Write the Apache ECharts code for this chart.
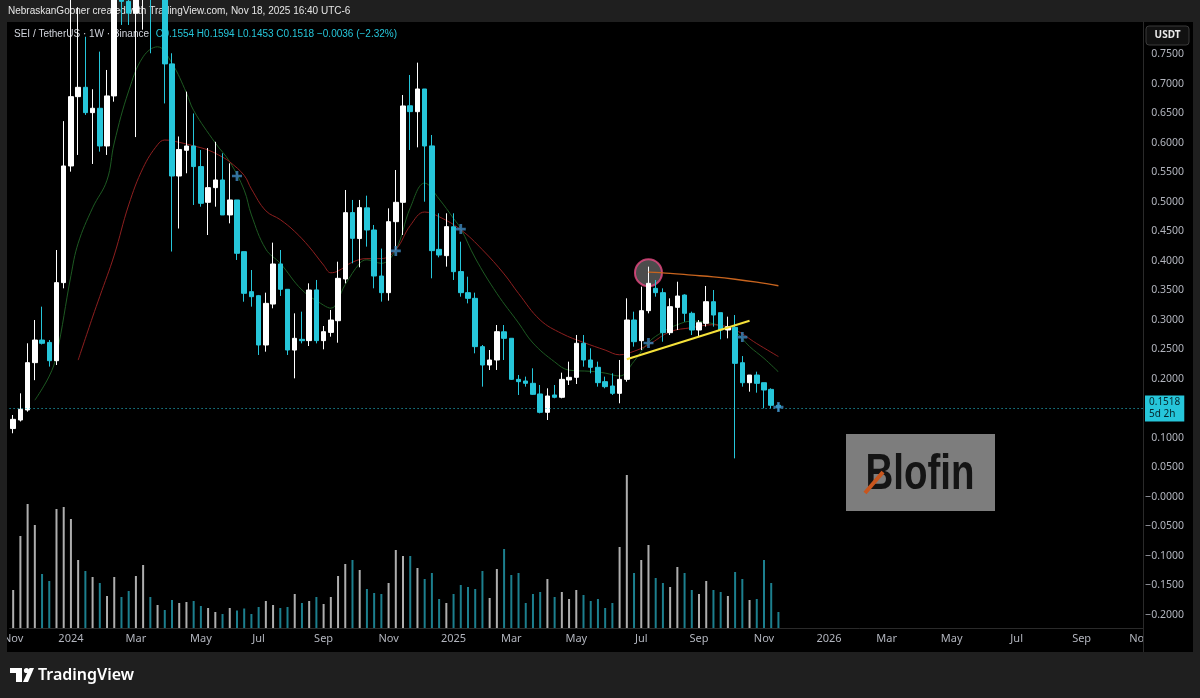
<!DOCTYPE html>
<html><head><meta charset="utf-8">
<script src="https://cdn.jsdelivr.net/npm/echarts@6/dist/echarts.min.js"></script>
<style>html,body{margin:0;padding:0;background:#1f1f1f}#c{width:1200px;height:698px}</style>
</head><body><div id="c"></div>
<script>
// ---- DATA ----
const startMonday = '2023-11-06';   // first weekly bar
const weekCount = 157;              // bars shown on the time axis (to Nov 2026)
const firstWeek = -8;               // week index of first bar relative to 2024-01-01

// weekly candles [open, close, low, high]
const candles = [
  [0.116,0.1316,0.108,0.139],   // -8
  [0.1305,0.1486,0.128,0.1757],
  [0.1475,0.2277,0.1446,0.2605],
  [0.2277,0.266,0.198,0.300],
  [0.266,0.2605,0.2585,0.3226],
  [0.262,0.231,0.221,0.266],
  [0.231,0.3633,0.2237,0.4186],
  [0.3633,0.561,0.3537,0.637],
  [0.561,0.6785,0.5514,0.87],   // 0
  [0.6785,0.6943,0.5797,0.83],
  [0.6943,0.6514,0.6475,0.78],
  [0.6514,0.6588,0.5644,0.691],
  [0.6588,0.5949,0.5853,0.7548],
  [0.5949,0.6797,0.5797,0.7237],
  [0.6797,0.88,0.67,0.90],
  [0.88,0.84,0.80,0.95],
  [0.84,0.82,0.80,0.90],
  [0.82,0.93,0.61,1.00],
  [0.93,1.00,0.792,1.14],        // 10
  [1.00,0.86,0.752,1.03],
  [0.86,0.90,0.82,0.95],
  [0.90,0.734,0.667,0.92],
  [0.734,0.544,0.416,0.752],
  [0.544,0.589,0.455,0.611],
  [0.5876,0.5949,0.5486,0.687],
  [0.5949,0.56,0.4949,0.650],
  [0.56,0.4977,0.492,0.588],
  [0.4994,0.5243,0.444,0.5915],
  [0.5243,0.5373,0.492,0.602],   // 20
  [0.5373,0.478,0.478,0.5825],
  [0.478,0.5034,0.4638,0.5655],
  [0.5034,0.413,0.4017,0.5034],
  [0.4158,0.3452,0.331,0.4158],
  [0.348,0.3395,0.3226,0.3847],
  [0.3412,0.2576,0.2407,0.3424],
  [0.2576,0.3282,0.2463,0.3463],
  [0.327,0.3949,0.3198,0.4311],
  [0.395,0.352,0.3407,0.4186],
  [0.352,0.2491,0.2407,0.352],   // 30
  [0.249,0.2689,0.2011,0.3113],
  [0.2672,0.2649,0.2604,0.3141],
  [0.265,0.3508,0.2559,0.3621],
  [0.351,0.265,0.2604,0.3678],
  [0.265,0.2802,0.2503,0.2898],
  [0.279,0.2999,0.2717,0.317],
  [0.2988,0.3706,0.2615,0.3988],
  [0.3695,0.4819,0.3621,0.5203],
  [0.482,0.4384,0.396,0.5034],
  [0.438,0.4904,0.3893,0.5034],  // 40
  [0.490,0.4525,0.4243,0.5107],
  [0.4525,0.3745,0.3537,0.461],
  [0.3745,0.3463,0.3311,0.421],
  [0.3463,0.4666,0.3328,0.4892],
  [0.4666,0.4994,0.4186,0.5542],
  [0.4994,0.6627,0.444,0.6813],
  [0.663,0.6531,0.5881,0.7152],
  [0.653,0.6915,0.5926,0.7361],
  [0.6915,0.5949,0.5005,0.6915],
  [0.595,0.4175,0.3706,0.6135],  // 50
  [0.4197,0.4101,0.4062,0.4808],
  [0.409,0.4582,0.3904,0.4808],
  [0.458,0.3819,0.3678,0.4808],
  [0.382,0.3463,0.3395,0.4327],
  [0.3463,0.3367,0.3282,0.3734],
  [0.3367,0.2548,0.2435,0.3463],
  [0.2548,0.2237,0.187,0.2576],
  [0.2237,0.2322,0.2152,0.2491],
  [0.2322,0.2802,0.2153,0.2915],
  [0.280,0.2689,0.2322,0.2915],  // 60
  [0.269,0.1994,0.1983,0.269],
  [0.1994,0.1955,0.1729,0.2068],
  [0.1966,0.1927,0.187,0.204],
  [0.1927,0.174,0.1729,0.2181],
  [0.1746,0.1435,0.1418,0.1898],
  [0.1435,0.1712,0.1305,0.1842],
  [0.1729,0.169,0.1673,0.1898],
  [0.169,0.1994,0.1673,0.2107],
  [0.1983,0.2028,0.1898,0.2294],
  [0.2028,0.2605,0.1915,0.2746], // 70
  [0.2605,0.2322,0.2209,0.2746],
  [0.2322,0.2198,0.2096,0.252],
  [0.2198,0.1938,0.187,0.2294],
  [0.1955,0.187,0.1842,0.204],
  [0.1881,0.1757,0.1729,0.2096],
  [0.1757,0.1994,0.1588,0.2322],
  [0.1994,0.300,0.1955,0.3367],
  [0.300,0.2632,0.2548,0.3141],
  [0.2649,0.3158,0.2491,0.3565],
  [0.3158,0.3621,0.3113,0.3904], // 80
  [0.3536,0.3463,0.3395,0.3678],
  [0.3463,0.2785,0.2632,0.3536],
  [0.2785,0.3226,0.2745,0.3367],
  [0.3214,0.3406,0.283,0.3649],
  [0.3423,0.3113,0.2971,0.3435],
  [0.3113,0.283,0.2745,0.3141],
  [0.283,0.2954,0.2717,0.2999],
  [0.2943,0.331,0.2887,0.3576],
  [0.331,0.3084,0.2887,0.3508],
  [0.3124,0.283,0.2672,0.3124],  // 90
  [0.283,0.2887,0.2689,0.3056],
  [0.2875,0.2265,0.0655,0.3084],
  [0.2276,0.1937,0.187,0.2389],
  [0.1937,0.2067,0.1785,0.2067],
  [0.2067,0.1926,0.1768,0.2124],
  [0.1937,0.1813,0.1503,0.1937],
  [0.1824,0.1554,0.1503,0.1842],
  [0.1554,0.1518,0.1453,0.1594]  // 98 (current)
];

// weekly volume (relative units, same order as candles)
const volumes = [38,92,124,103,54,47,119,121,
  109,68,57,51,45,32,51,31,37,52,
  63,31,23,18,28,25,26,27,22,20,
  16,14,20,17.5,19.5,14,21,27,23,20,
  21,34,25,27,31,24,31,52,64,68,
  58,39,35,34,45,78,72,72,60,49,
  55,29,25,34,43,41,39,57,30,59,
  79,53,55,25,34,36,49,31,36,29,
  38,33,27,29,20,25,81,153,55,68,
  83,50,45,41,61,55,38,34,47,38,
  36,32,56,49,28,29,68,45,16];

// moving averages [week, value]
const fastMA = [[-5,0.164],[-3,0.205],[-2,0.240],[0,0.375],[1,0.43],[3,0.49],[5,0.537],[6,0.60],[8,0.688],
  [10,0.746],[12,0.763],[14,0.735],[16,0.685],[17,0.655],[20,0.600],[22,0.568],[24,0.52],[25,0.478],[27,0.42],
  [29,0.396],[32,0.351],[35,0.325],[36,0.320],[38,0.36],[40,0.396],[41,0.402],[43,0.396],[45,0.419],[47,0.49],
  [49,0.532],[51,0.505],[53,0.472],[54,0.455],[56,0.405],[59,0.345],[62,0.295],[64,0.261],[67,0.229],[69,0.215],
  [72,0.213],[74,0.21],[76,0.205],[78,0.23],[80,0.262],[82,0.28],[84,0.292],[86,0.298],[88,0.296],[90,0.29],
  [92,0.280],[94,0.255],[96,0.235],[98,0.212]];
const slowMA = [[1,0.232],[3,0.305],[4,0.34],[6,0.41],[8,0.495],[10,0.558],[12,0.597],[13,0.605],[15,0.601],
  [17,0.595],[19,0.588],[21,0.576],[22,0.568],[24,0.545],[25,0.522],[27,0.485],[29,0.47],[31,0.45],[33,0.424],
  [35,0.393],[36,0.380],[37,0.383],[39,0.398],[41,0.404],[43,0.404],[45,0.419],[47,0.46],[49,0.483],[51,0.475],
  [54,0.453],[57,0.419],[60,0.378],[62,0.345],[65,0.300],[68,0.277],[71,0.262],[74,0.249],[76,0.241],[78,0.247],
  [80,0.258],[83,0.280],[86,0.287],[89,0.292],[92,0.283],[95,0.260],[98,0.238]];
const orangeLine = [[80,0.381],[83,0.379],[86,0.376],[89,0.373],[92,0.369],[95,0.364],[98,0.358]];
const trendLine = [[77,0.2334],[94,0.2988]];
const circleMark = [[80,0.38]];
const plusMarks = [[23,0.544],[45,0.417],[54,0.454],[80,0.261],[93,0.271],[98,0.1525]];
const lastPrice = 0.1518;
const priceTicks = [0.75,0.70,0.65,0.60,0.55,0.50,0.45,0.40,0.35,0.30,0.25,0.20,0.10,0.05,0,-0.05,-0.10,-0.15,-0.20];
const monthNames = ['Jan','Feb','Mar','Apr','May','Jun','Jul','Aug','Sep','Oct','Nov','Dec'];

// ---- BUILD ----
const categories = [];
const d0 = new Date(startMonday + 'T00:00:00Z');
for (let i = 0; i < weekCount; i++) {
  const d = new Date(d0.getTime() + i * 7 * 86400000);
  categories.push(d.toISOString().slice(0, 10));
}
const idx = w => w - firstWeek;
const UP = '#ffffff', DOWN = '#26c6da';
const volData = volumes.map((v, i) => ({
  value: v,
  itemStyle: { color: candles[i][1] >= candles[i][0] ? 'rgba(205,205,205,0.85)' : 'rgba(38,170,190,0.75)' }
}));
const toIdx = arr => arr.map(p => [idx(p[0]), p[1]]);
const FONT = '"Noto Sans", "Open Sans", sans-serif';
const UIFONT = '"Liberation Sans", Arial, sans-serif';

const chart = echarts.init(document.getElementById('c'), null, { renderer: 'canvas' });
chart.setOption({
  backgroundColor: '#1f1f1f',
  animation: false,
  textStyle: { fontFamily: FONT },
  grid: { left: 5, right: 57, top: 22, bottom: 70 },
  xAxis: {
    type: 'category', data: categories, boundaryGap: true,
    axisLine: { show: true, onZero: false, lineStyle: { color: '#2a2a2a' } },
    axisTick: { show: false },
    splitLine: { show: false },
    axisLabel: {
      color: '#b2b5be', fontSize: 11, margin: 5, hideOverlap: false,
      interval: (i, v) => { const m = +v.slice(5, 7), d = +v.slice(8, 10); return m % 2 === 1 && d <= 7; },
      formatter: v => { const m = +v.slice(5, 7); return m === 1 ? v.slice(0, 4) : monthNames[m - 1]; }
    }
  },
  yAxis: [{
    type: 'value', position: 'right', min: -0.222, max: 0.805, scale: true,
    axisLine: { show: true, lineStyle: { color: '#2a2a2a' } },
    axisTick: { show: false },
    splitLine: { show: false },
    axisLabel: {
      customValues: priceTicks, color: '#b2b5be', fontSize: 10.5, align: 'right', margin: 41,
      formatter: v => { const s = Math.abs(v).toFixed(4); return v <= 0 ? '\u2212' + s : s; }
    }
  }, {
    type: 'value', min: 0, max: 606, show: false, splitLine: { show: false }
  }],
  series: [
    { type: 'bar', yAxisIndex: 1, data: volData, barWidth: 2, z: 1, silent: true },
    { type: 'line', data: toIdx(fastMA), smooth: 0.4, symbol: 'none', lineStyle: { color: '#1d5a22', width: 1 }, z: 2, silent: true },
    { type: 'line', data: toIdx(slowMA), smooth: 0.4, symbol: 'none', lineStyle: { color: '#8e1f1f', width: 1 }, z: 2, silent: true },
    { type: 'scatter', data: toIdx(circleMark), symbol: 'circle', symbolSize: 27,
      itemStyle: { color: 'rgba(105,105,105,0.9)', borderColor: '#e84a83', borderWidth: 2 }, z: 2, silent: true },
    { type: 'candlestick', data: candles, barWidth: 5, z: 3, clip: true,
      itemStyle: { color: UP, color0: DOWN, borderColor: UP, borderColor0: DOWN, borderWidth: 1 },
      markLine: {
        silent: true, symbol: 'none', animation: false,
        lineStyle: { color: '#26c6da', type: [1, 3], width: 1 },
        label: { show: true, position: 'end', distance: 2, formatter: '0.1518\n5d 2h', backgroundColor: '#26c6da',
          color: '#06262c', fontSize: 10, lineHeight: 12, padding: [1, 4, 1, 4], fontFamily: FONT },
        data: [{ yAxis: lastPrice }]
      }
    },
    { type: 'line', data: toIdx(orangeLine), smooth: 0.4, symbol: 'none', lineStyle: { color: '#c8641e', width: 1.3 }, z: 4, silent: true },
    { type: 'line', data: toIdx(trendLine), symbol: 'none', lineStyle: { color: '#f5e13a', width: 2 }, z: 4, silent: true },
    { type: 'scatter', data: toIdx(plusMarks), symbol: 'path://M4,0h3v4h4v3h-4v4h-3v-4h-4v-3h4z', symbolSize: 10,
      itemStyle: { color: '#3f88bf' }, z: 5, silent: true }
  ],
  graphic: [
    { type: 'rect', shape: { x: 7, y: 22, width: 1186, height: 630 }, style: { fill: '#000' }, z: -10, silent: true },
    { type: 'text', x: 8, y: 6, style: { text: 'NebraskanGooner created with TradingView.com, Nov 18, 2025 16:40 UTC-6', fill: '#e6e6e6', font: '10px ' + UIFONT }, silent: true },
    { type: 'text', x: 14, y: 28, z: 1, silent: true, style: {
      text: '{a|SEI / TetherUS · 1W · Binance}  {b|O0.1554 H0.1594 L0.1453 C0.1518 \u22120.0036 (\u22122.32%)}',
      rich: { a: { fill: '#d1d4dc', fontSize: 10, fontFamily: UIFONT }, b: { fill: '#26c6da', fontSize: 10, fontFamily: UIFONT } } } },
    { type: 'rect', shape: { x: 1146, y: 26, width: 43, height: 19, r: 3 }, style: { fill: '#111', stroke: '#3a3a3a', lineWidth: 1 }, z: 10, silent: true },
    { type: 'text', x: 1167.5, y: 35.5, z: 11, silent: true, style: { text: 'USDT', fill: '#e8e8e8', font: 'bold 10px ' + FONT, textAlign: 'center', textVerticalAlign: 'middle' } },
    { type: 'rect', shape: { x: 1144, y: 629, width: 49, height: 23 }, style: { fill: '#000' }, z: 10, silent: true },
    { type: 'line', shape: { x1: 1143.5, y1: 628, x2: 1143.5, y2: 652 }, style: { stroke: '#2a2a2a' }, z: 10, silent: true },
    { type: 'rect', shape: { x: 0, y: 620, width: 7, height: 40 }, style: { fill: '#1f1f1f' }, z: 10, silent: true },
    // Blofin watermark
    { type: 'rect', shape: { x: 846, y: 434, width: 149, height: 77 }, style: { fill: '#7d7d7d' }, z: 6, silent: true },
    { type: 'text', x: 920, y: 475, scaleX: 0.77, z: 7, silent: true, style: { text: 'Blofin', fill: '#141414', font: 'bold 50px "Liberation Sans", Arial, sans-serif', textAlign: 'center', textVerticalAlign: 'middle' } },
    { type: 'line', shape: { x1: 865, y1: 493, x2: 883, y2: 472 }, style: { stroke: '#c8561e', lineWidth: 4 }, z: 8, silent: true },
    // TradingView footer logo
    { type: 'rect', shape: { x: 10, y: 668, width: 12, height: 5 }, style: { fill: '#fff' }, z: 10, silent: true },
    { type: 'rect', shape: { x: 16, y: 668, width: 6, height: 14 }, style: { fill: '#fff' }, z: 10, silent: true },
    { type: 'circle', shape: { cx: 26.5, cy: 670.5, r: 2.6 }, style: { fill: '#fff' }, z: 10, silent: true },
    { type: 'polygon', shape: { points: [[23, 682], [28, 682], [34, 668], [29.5, 668]] }, style: { fill: '#fff' }, z: 10, silent: true },
    { type: 'text', x: 38, y: 675, z: 10, silent: true, style: { text: 'TradingView', fill: '#ffffff', font: '600 16px ' + FONT, textVerticalAlign: 'middle' } }
  ]
});
</script>
</body></html>
